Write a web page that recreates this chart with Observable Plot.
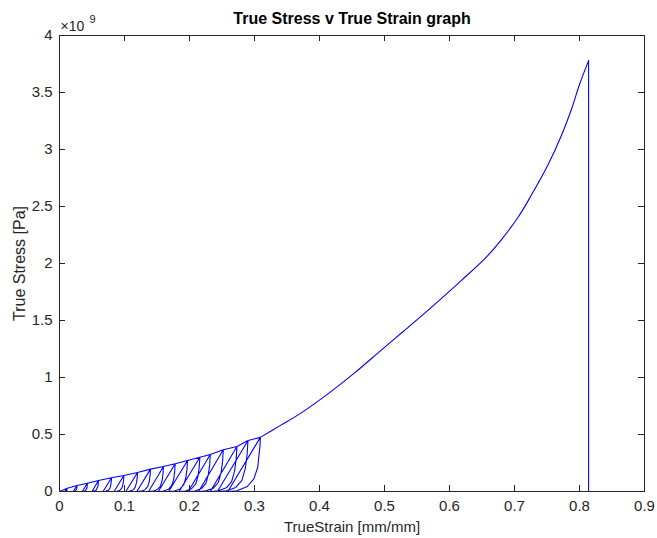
<!DOCTYPE html>
<html><head><meta charset="utf-8">
<script src="https://cdn.jsdelivr.net/npm/d3@7"></script>
<script src="https://cdn.jsdelivr.net/npm/@observablehq/plot@0.6"></script>
<style>body{margin:0;background:#fff;}</style>
</head><body><div id="chart"></div>
<script>
// Cyclic loading part (strain mm/mm, stress in 1e9 Pa), in path order
const cycleStrain = [
0,
.012,.011,.008,.012,
.027,.0265,.0245,.021,.027,
.043,.0423,.0398,.035,.043,
.060,.0591,.056,.050,.060,
.080,.0796,.0788,.0774,.0748,.0709,.067,.080,
.099,.0986,.0977,.096,.093,.0885,.084,.099,
.120,.1195,.1184,.1164,.1128,.1074,.102,.120,
.140,.1394,.1381,.1358,.1316,.1253,.119,.140,
.160,.1593,.1579,.1554,.1508,.1439,.137,.160,
.178,.1772,.1757,.1728,.1676,.1598,.152,.178,
.197,.1961,.1944,.1912,.1854,.1767,.168,.197,
.216,.2150,.2131,.2096,.2032,.1936,.184,.216,
.232,.2310,.2289,.2252,.2184,.2082,.198,.232,
.252,.2509,.2486,.2444,.2368,.2254,.214,.252,
.273,.2718,.2693,.2648,.2566,.2443,.232,.273,
.290,.2886,.2858,.2806,.2712,.2571,.243,.290,
.309,.3085,.3065,.305,.299,.289,.273,.259,.309
];
const cycleStress = [
0,
.029,.008,0,.029,
.053,.024,.004,0,.053,
.073,.033,.006,0,.073,
.096,.043,.008,0,.096,
.120,.086,.054,.026,.010,.002,0,.120,
.140,.101,.063,.031,.011,.002,0,.140,
.167,.120,.075,.037,.013,.0025,0,.167,
.196,.141,.088,.043,.016,.003,0,.196,
.219,.158,.099,.048,.018,.003,0,.219,
.243,.175,.109,.053,.019,.004,0,.243,
.272,.196,.122,.060,.022,.004,0,.272,
.301,.217,.135,.066,.024,.0045,0,.301,
.325,.234,.146,.072,.026,.005,0,.325,
.366,.264,.165,.081,.029,.0055,0,.366,
.395,.284,.178,.087,.032,.006,0,.395,
.447,.322,.201,.098,.036,.007,0,.447,
.475,.40,.30,.213,.111,.044,.006,0,.475
];
// Monotonic part up to fracture (starts at the last cycle peak)
const mainStrain = [.309,.34,.372,.413,.454,.495,.526,.557,.583,.618,.654,.68,.706,.726,.752,.772,.788,.80,.814];
const mainStress = [.475,.58,.69,.856,1.04,1.24,1.39,1.54,1.67,1.85,2.04,2.21,2.41,2.60,2.87,3.12,3.36,3.57,3.78];
// Fracture drop
const dropStrain = [.814,.814];
const dropStress = [3.78,0];

const xTicks = [0,0.1,0.2,0.3,0.4,0.5,0.6,0.7,0.8,0.9];
const yTicks = [0,0.5,1,1.5,2,2.5,3,3.5,4];
const titleText = "True Stress v True Strain graph";
const xLabel = "TrueStrain [mm/mm]";
const yLabel = "True Stress [Pa]";
const exponentBase = "×10";
const exponent = "9";

const toRows = (xs, ys) => xs.map((s, i) => ({strain: s, stress: ys[i]}));
const cycles = toRows(cycleStrain, cycleStress);
const main = toRows(mainStrain, mainStress);
const drop = toRows(dropStrain, dropStress);

const W = 657, H = 538, mL = 59, mR = 13, mT = 35, mB = 47;
const frameW = W - mL - mR, frameH = H - mT - mB, tickLen = 6;
const ink = "#262626";
const blue = "#0000ff";

const chart = Plot.plot({
  width: W,
  height: H,
  marginLeft: mL,
  marginRight: mR,
  marginTop: mT,
  marginBottom: mB,
  style: {fontFamily: "'Liberation Sans', Arial, sans-serif", fontSize: "14px", color: ink, background: "#fff"},
  x: {domain: [0, 0.9]},
  y: {domain: [0, 4]},
  marks: [
    Plot.line(cycles, {x: "strain", y: "stress", stroke: blue, strokeWidth: 1.1}),
    Plot.line(main, {x: "strain", y: "stress", stroke: blue, strokeWidth: 1.1, curve: "catmull-rom"}),
    Plot.line(drop, {x: "strain", y: "stress", stroke: blue, strokeWidth: 1.1}),
    Plot.frame({stroke: ink, strokeWidth: 1}),
    // inward ticks on all four sides
    Plot.ruleX(xTicks, {x: d => d, insetTop: frameH - tickLen, stroke: ink}),
    Plot.ruleX(xTicks, {x: d => d, insetBottom: frameH - tickLen, stroke: ink}),
    Plot.ruleY(yTicks, {y: d => d, insetRight: frameW - tickLen, stroke: ink}),
    Plot.ruleY(yTicks, {y: d => d, insetLeft: frameW - tickLen, stroke: ink}),
    // tick labels
    Plot.axisX(xTicks, {anchor: "bottom", tickSize: 0, tickPadding: 9, tickFormat: d => String(d), label: null, fontSize: 15, color: ink}),
    Plot.axisY(yTicks, {anchor: "left", tickSize: 0, tickPadding: 7, tickFormat: d => String(d), label: null, fontSize: 15, color: ink}),
    Plot.text([titleText], {frameAnchor: "top", dy: -17, lineAnchor: "middle", textAnchor: "middle", fontWeight: "bold", fontSize: 16, fill: "#000"}),
    Plot.text([xLabel], {frameAnchor: "bottom", dy: 36, lineAnchor: "middle", textAnchor: "middle", fontSize: 15, fill: ink}),
    Plot.text([yLabel], {frameAnchor: "left", dx: -40, lineAnchor: "middle", textAnchor: "middle", rotate: -90, fontSize: 16, fill: ink}),
    Plot.text([exponentBase], {frameAnchor: "top-left", textAnchor: "start", lineAnchor: "middle", dx: 1, dy: -9, fontSize: 14, fill: ink}),
    Plot.text([exponent], {frameAnchor: "top-left", textAnchor: "start", lineAnchor: "middle", dx: 30, dy: -16, fontSize: 11, fill: ink})
  ]
});
document.getElementById("chart").appendChild(chart);
</script>
</body></html>
